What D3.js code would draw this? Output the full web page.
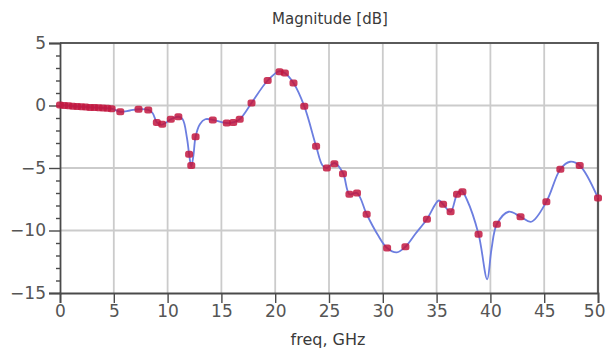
<!DOCTYPE html>
<meta charset="utf-8">
<head>
    <script type="text/javascript" src="https://cdn.jsdelivr.net/npm/d3@7"></script>
    <style>
        body { margin: 0; background: #fff; }
        text { font-family: "DejaVu Sans", Verdana, sans-serif; fill: #3a3a3a; }
    </style>
    <title></title>
</head>
<body>
<script>

    var width = 606
    var height = 356

    // marker samples (GHz, dB)
    var markerFreq = [0, 0.4, 0.8, 1.2, 1.6, 2.0, 2.4, 2.8, 3.2, 3.6, 4.0, 4.4, 4.8, 5.6, 7.3, 8.2, 9.0, 9.5, 10.3, 11.0,
        12.0, 12.2, 12.6, 14.2, 15.5, 16.1, 16.7, 17.8, 19.3, 20.4, 20.9, 21.7, 22.7, 23.8, 24.8, 25.5, 26.3, 26.9,
        27.6, 28.5, 30.4, 32.1, 34.1, 35.6, 36.3, 36.9, 37.4, 38.9, 40.6, 42.8, 45.2, 46.5, 48.3, 50]
    var markerDb = [0.05, 0, -0.02, -0.05, -0.08, -0.1, -0.12, -0.15, -0.16, -0.18, -0.2, -0.22, -0.25, -0.5, -0.3, -0.35, -1.35, -1.5, -1.1, -0.9,
        -3.9, -4.8, -2.5, -1.15, -1.4, -1.35, -1.1, 0.2, 2.0, 2.7, 2.6, 1.8, -0.05, -3.25, -5.0, -4.65, -5.45, -7.1,
        -7.0, -8.7, -11.4, -11.3, -9.1, -7.9, -8.5, -7.1, -6.9, -10.3, -9.5, -8.9, -7.7, -5.1, -4.8, -7.4]

    // simulated curve (GHz, dB)
    var curveFreq = [0, 0.8, 1.6, 2.4, 3.2, 4.0, 4.8, 5.6, 6.5, 7.3, 8.2, 8.6, 9.0, 9.4, 9.8, 10.3, 11.0, 11.4, 11.8,
        12.0, 12.2, 12.4, 12.6, 13.0, 13.5, 14.2, 15.5, 16.1, 16.7, 17.8, 19.3, 20.4, 20.9, 21.7, 22.7, 23.8, 24.4,
        24.8, 25.5, 26.3, 26.9, 27.6, 28.5, 29.5, 30.4, 31.3, 32.1, 33.0, 34.1, 35.2, 35.6, 36.3, 36.9, 37.3, 37.8,
        38.9, 39.7, 40.1, 40.6, 41.7, 42.8, 43.8, 45.2, 46.5, 47.4, 48.3, 50]
    var curveDb = [0.05, -0.02, -0.08, -0.12, -0.16, -0.2, -0.25, -0.5, -0.4, -0.3, -0.35, -0.6, -1.35, -1.55, -1.4, -1.1, -0.9, -1.1, -2.6,
        -3.9, -4.9, -4.0, -2.5, -1.5, -1.1, -1.15, -1.4, -1.35, -1.1, 0.2, 2.0, 2.75, 2.6, 1.8, -0.05, -3.25, -4.8,
        -5.0, -4.6, -5.4, -7.1, -7.0, -8.7, -10.3, -11.4, -11.75, -11.3, -10.3, -9.1, -7.6, -7.9, -8.5, -7.1, -6.8, -7.5,
        -10.3, -13.9, -11.5, -9.5, -8.5, -8.9, -9.3, -7.7, -5.1, -4.5, -4.8, -7.4]

    var xTicks = [0, 5, 10, 15, 20, 25, 30, 35, 40, 45, 50]
    var yTicks = [5, 0, -5, -10, -15]

    var margin = {top: 43, right: 8, bottom: 63, left: 60}

    var svg = d3.select("body").append("svg")
        .attr("width", width)
        .attr("height", height)

    var x = d3.scaleLinear().domain([0, 50]).range([margin.left, width - margin.right])
    var y = d3.scaleLinear().domain([-15, 5]).range([height - margin.bottom, margin.top])

    // grid
    svg.append("g")
        .selectAll("line")
        .data(xTicks.slice(1, -1))
        .enter().append("line")
        .attr("x1", d => x(d)).attr("x2", d => x(d))
        .attr("y1", y(5)).attr("y2", y(-15))
        .style("stroke", "#cbcbcb").style("stroke-width", 1.8)

    svg.append("g")
        .selectAll("line")
        .data(yTicks.slice(1, -1))
        .enter().append("line")
        .attr("x1", x(0)).attr("x2", x(50))
        .attr("y1", d => y(d)).attr("y2", d => y(d))
        .style("stroke", "#cbcbcb").style("stroke-width", 1.8)

    // frame top/right
    svg.append("path")
        .attr("d", "M" + x(0) + "," + y(5) + "H" + x(50) + "V" + y(-15))
        .style("fill", "none").style("stroke", "#5a5a5a").style("stroke-width", 2.2)

    // axes
    var xAxis = svg.append("g")
        .attr("transform", "translate(0," + y(-15) + ")")
        .call(d3.axisBottom(x).tickValues(xTicks).tickSize(10).tickPadding(2))
    var yAxis = svg.append("g")
        .attr("transform", "translate(" + x(0) + ",0)")
        .call(d3.axisLeft(y).tickValues(yTicks).tickSize(11).tickPadding(3))
    svg.append("g")
        .attr("transform", "translate(" + x(0) + ",0)")
        .call(d3.axisLeft(y).tickValues(d3.range(-15, 6, 1).filter(d => d % 5 != 0)).tickSize(4).tickFormat(""))
        .select(".domain").remove()

    svg.selectAll(".domain").style("stroke", "#4a4a4a").style("stroke-width", 1.8)
    svg.selectAll(".tick line").style("stroke", "#4a4a4a").style("stroke-width", 1.4)
    svg.selectAll(".tick text").style("font-size", "17px").style("font-family", "DejaVu Sans").style("fill", "#555")

    // last x label sits against the right edge
    xAxis.selectAll(".tick text").filter(d => d == 50)
        .attr("text-anchor", "end").attr("x", width - 1 - x(50))

    // curve
    var curve = curveFreq.map((f, i) => [f, curveDb[i]])
    svg.append("path")
        .datum(curve)
        .attr("d", d3.line().x(d => x(d[0])).y(d => y(d[1])).curve(d3.curveCatmullRom.alpha(0.5)))
        .style("fill", "none").style("stroke", "#6c7ee0").style("stroke-width", 1.8)

    // markers
    svg.append("g")
        .selectAll("rect")
        .data(markerFreq.map((f, i) => [f, markerDb[i]]))
        .enter().append("rect")
        .attr("x", d => x(d[0]) - 4).attr("y", d => y(d[1]) - 3.5)
        .attr("width", 8).attr("height", 7).attr("rx", 2.5)
        .style("fill", "#c2183f").style("opacity", 0.85)

    // titles
    svg.append("text")
        .attr("x", 330).attr("y", 24)
        .attr("text-anchor", "middle")
        .style("font-size", "15px")
        .text("Magnitude [dB]")

    svg.append("text")
        .attr("x", 328).attr("y", 345)
        .attr("text-anchor", "middle")
        .style("font-size", "16px")
        .text("freq, GHz")

</script>
</body>
</html>
